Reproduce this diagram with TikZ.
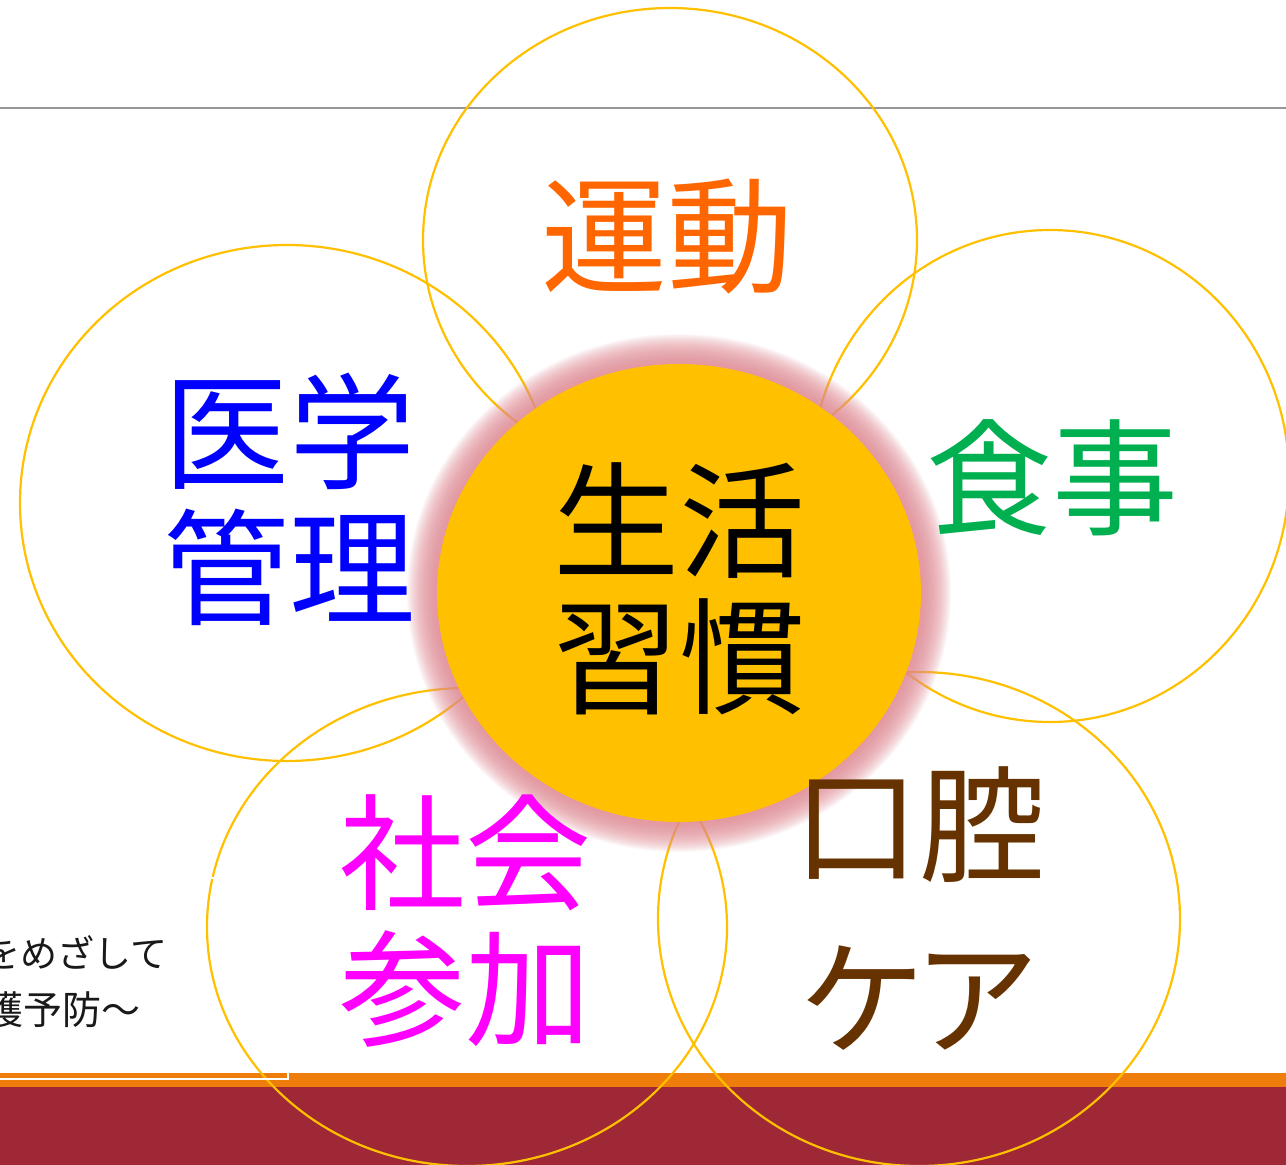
\documentclass[tikz,border=0pt]{standalone}
\usepackage{fontspec}
\newfontfamily\jp{Noto Sans CJK JP}
\usetikzlibrary{shapes.geometric}
\definecolor{ring}{RGB}{255,192,0}
\definecolor{glowc}{RGB}{228,140,150}
\definecolor{bandor}{RGB}{238,125,11}
\definecolor{bandred}{RGB}{158,40,53}
\definecolor{rulegray}{RGB}{150,150,150}
\definecolor{tOrange}{RGB}{255,102,0}
\definecolor{tBlue}{RGB}{0,0,255}
\definecolor{tGreen}{RGB}{0,176,80}
\definecolor{tMagenta}{RGB}{255,0,255}
\definecolor{tBrown}{RGB}{102,51,0}
\tikzset{
  petal/.style={ellipse, draw=ring, line width=2.2pt, inner sep=0pt},
  bigtxt/.style={font=\jp\fontsize{126}{136}\selectfont, align=center, inner sep=0pt},
  smalltxt/.style={font=\jp\fontsize{37}{44}\selectfont, text=black!90, inner sep=0pt}
}
\begin{document}
\begin{tikzpicture}[x=1pt,y=-1pt]
\useasboundingbox (0,0) rectangle (1286,1165);
\fill[white] (0,0) rectangle (1286,1165);
% top rule
\draw[rulegray, line width=1.5pt] (0,108) -- (1286,108);
% bottom bands
\fill[bandor] (0,1073) rectangle (1286,1087);
\fill[bandred] (0,1087) rectangle (1286,1165);
% petals
\node[petal, minimum width=494pt, minimum height=464pt] (undo) at (670,240) {};
\node[petal, minimum width=478pt, minimum height=492pt] (shoku) at (1050,476) {};
\node[petal, minimum width=534pt, minimum height=516pt] (igaku) at (287,503) {};
\node[petal, minimum width=520pt, minimum height=478pt] (shakai) at (467,927) {};
\node[petal, minimum width=522pt, minimum height=494pt] (koku) at (919,919) {};
% white frame of text box
\draw[white, line width=2pt] (-10,878) rectangle (288,1079);
% glow of core
\foreach \d in {1,2,...,30} {
  \fill[glowc, opacity=0.06] (679,593) ellipse [x radius={242+\d}, y radius={229+\d}];
}
\node[ellipse, fill=ring, minimum width=484pt, minimum height=458pt, inner sep=0pt] (core) at (679,593) {};
% texts
\node[bigtxt, text=black] (tcore) at (679,589) {生活\\習慣};
\node[bigtxt, text=tOrange] (tundo) at (667,237) {運動};
\node[bigtxt, text=tBlue] (tigaku) at (289,499) {医学\\管理};
\node[bigtxt, text=tGreen] (tshoku) at (1052,478) {食事};
\node[bigtxt, text=tMagenta] (tshakai) at (465,921) {社会\\参加};
\node[bigtxt, text=tBrown, font=\jp\fontsize{126}{173}\selectfont] (tkoku) at (919,909) {口腔\\ケ\kern-12ptア};
\node[smalltxt, anchor=east] (line1) at (168,952) {をめざして};
\node[smalltxt, anchor=east, font=\jp\fontsize{39}{44}\selectfont] (line2) at (141,1010) {護予防～};
\end{tikzpicture}
\end{document}
